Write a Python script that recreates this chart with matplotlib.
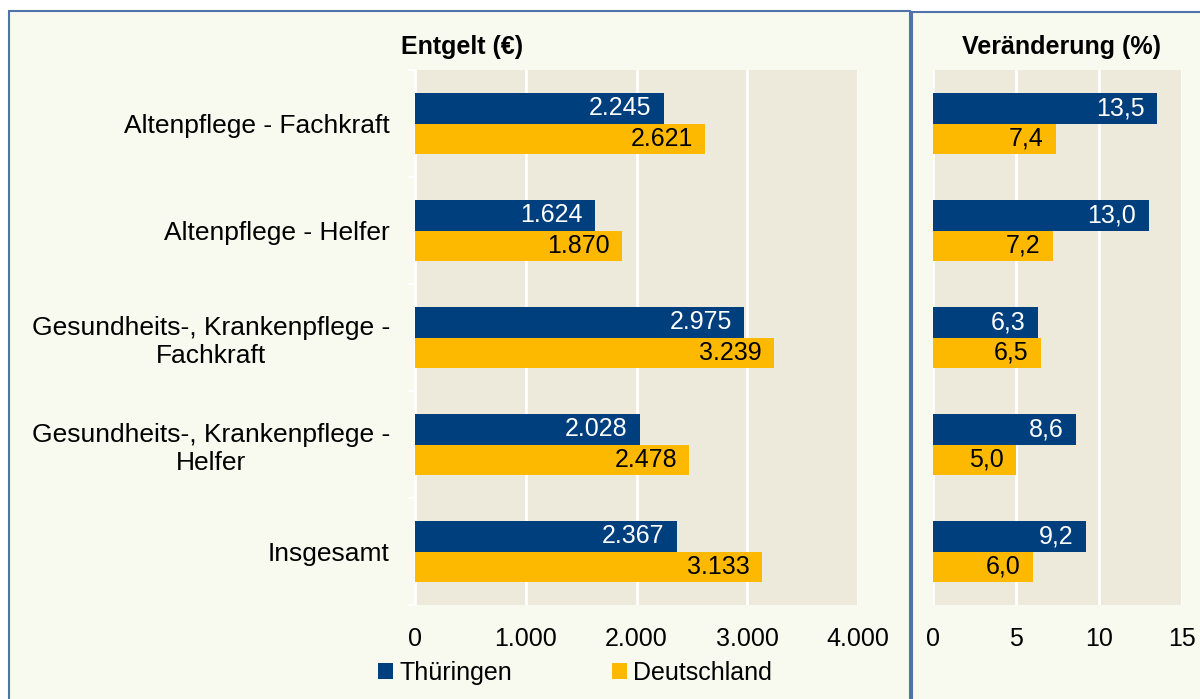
import matplotlib.pyplot as plt
from matplotlib.patches import Rectangle
import numpy as np

# ==============================
# DATA
# ==============================
categories = [
    "Altenpflege - Fachkraft",
    "Altenpflege - Helfer",
    "Gesundheits-, Krankenpflege -\nFachkraft",
    "Gesundheits-, Krankenpflege -\nHelfer",
    "Insgesamt",
]
series = ["Thüringen", "Deutschland"]
entgelt_th = [2245, 1624, 2975, 2028, 2367]
entgelt_de = [2621, 1870, 3239, 2478, 3133]
change_th = [13.5, 13.0, 6.3, 8.6, 9.2]
change_de = [7.4, 7.2, 6.5, 5.0, 6.0]
entgelt_ticks = [0, 1000, 2000, 3000, 4000]
change_ticks = [0, 5, 10, 15]

# ==============================
# STYLE
# ==============================
BLUE = "#003F7D"
YELLOW = "#FDB900"
PANEL = "#F8F9EF"
PLOTBG = "#EDEADC"
BORDER = "#5272AC"
W, H = 1200, 699
FS = 18

plt.rcParams["font.family"] = ["Liberation Sans", "DejaVu Sans"]

fig = plt.figure(figsize=(W / 100, H / 100), dpi=100)
fig.patch.set_facecolor("white")

# panel boxes (pixel coords -> figure fraction)
def box(x0, y0, x1, y1):
    fig.patches.append(Rectangle((x0 / W, 1 - y1 / H), (x1 - x0) / W, (y1 - y0) / H,
                                 transform=fig.transFigure, facecolor=PANEL,
                                 edgecolor=BORDER, linewidth=1.5, zorder=-5))

box(9, 11, 910, 705)
box(912, 12, 1210, 705)

de_fmt = lambda v: f"{v:,.0f}".replace(",", ".")
pct_fmt = lambda v: f"{v:.1f}".replace(".", ",")

y = np.arange(len(categories))
bh = 0.285


def panel(rect, th, de, ticks, fmt, tickfmt, show_labels):
    ax = fig.add_axes(rect)
    ax.set_facecolor(PLOTBG)
    b1 = ax.barh(y - bh / 2, th, height=bh, color=BLUE, label=series[0], zorder=3)
    b2 = ax.barh(y + bh / 2, de, height=bh, color=YELLOW, label=series[1], zorder=3)
    for bars, vals, col in ((b1, th, "white"), (b2, de, "black")):
        for rect_, v in zip(bars, vals):
            ax.annotate(fmt(v), (v, rect_.get_y() + rect_.get_height() / 2),
                        xytext=(-9, 0), textcoords="offset points",
                        ha="right", va="center", color=col, fontsize=FS, zorder=4)
    ax.set_xlim(ticks[0], ticks[-1])
    ax.set_ylim(len(categories) - 0.5, -0.5)
    ax.set_xticks(ticks)
    ax.set_xticklabels([tickfmt(t) for t in ticks])
    ax.grid(axis="x", color="white", linewidth=2, zorder=1)
    ax.set_axisbelow(True)
    for s in ax.spines.values():
        s.set_visible(False)
    ax.tick_params(axis="x", length=0, pad=16, labelsize=FS)
    ax.set_yticks(y)
    if show_labels:
        ax.set_yticklabels(categories, fontsize=19, multialignment="center")
        ax.spines["left"].set_visible(True)
        ax.spines["left"].set_color("white")
        ax.spines["left"].set_linewidth(1.5)
        ax.set_yticks(np.arange(-0.5, len(categories), 1), minor=True)
        ax.tick_params(axis="y", which="minor", length=5, color="white", width=1.5)
        ax.tick_params(axis="y", which="major", length=0, pad=18)
    else:
        ax.set_yticklabels([])
        ax.tick_params(axis="y", length=0)
    return ax


ax1 = panel([415 / W, 1 - 605 / H, 443 / W, 535 / H], entgelt_th, entgelt_de,
            entgelt_ticks, de_fmt, de_fmt, True)
ax2 = panel([933 / W, 1 - 605 / H, 249 / W, 535 / H], change_th, change_de,
            change_ticks, pct_fmt, lambda t: f"{t}", False)

fig.text(462 / W, 1 - 47 / H, "Entgelt (€)", ha="center", va="center",
         fontsize=FS, fontweight="bold")
fig.text(1062 / W, 1 - 47 / H, "Veränderung (%)", ha="center", va="center",
         fontsize=FS, fontweight="bold")

handles, labels = ax1.get_legend_handles_labels()
fig.legend(handles, labels, ncol=2, frameon=False, loc="center left",
           bbox_to_anchor=(368 / W, 1 - 673 / H), fontsize=FS,
           handlelength=0.6, handleheight=0.6, handletextpad=0.25,
           columnspacing=4.0, borderaxespad=0)

plt.savefig("out.png", dpi=100, facecolor="white")
plt.close()
